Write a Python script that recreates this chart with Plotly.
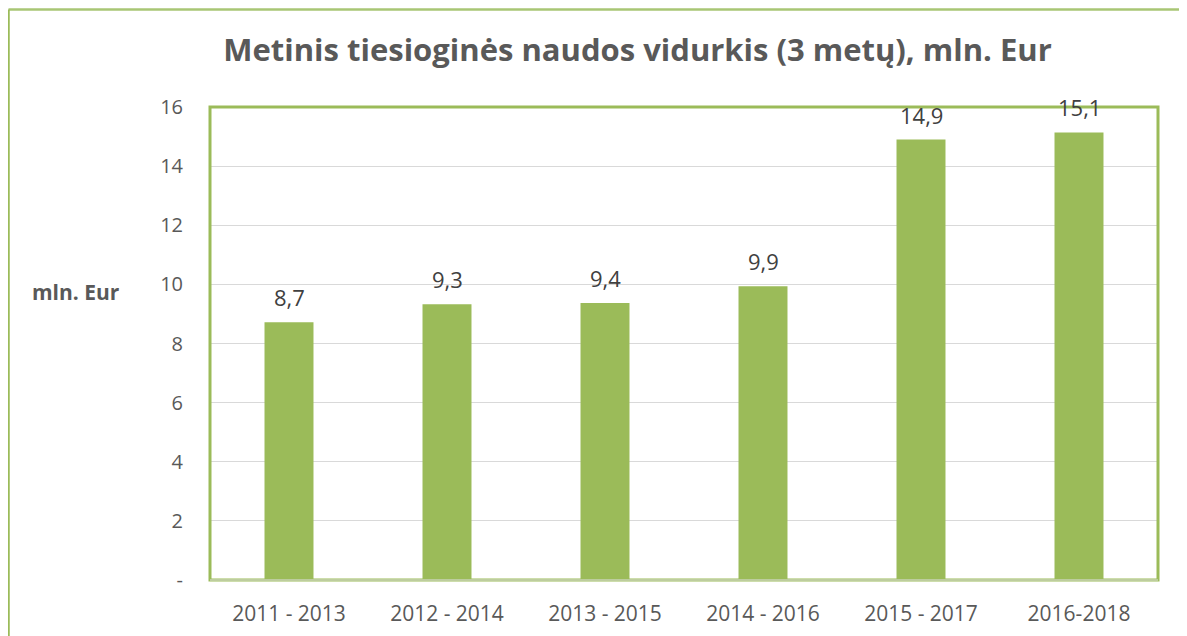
import plotly.graph_objects as go

categories = ["2011 - 2013", "2012 - 2014", "2013 - 2015", "2014 - 2016", "2015 - 2017", "2016-2018"]
values = [8.72, 9.33, 9.37, 9.94, 14.9, 15.14]
y_tick_vals = [0, 2, 4, 6, 8, 10, 12, 14, 16]
y_tick_text = ["-", "2", "4", "6", "8", "10", "12", "14", "16"]
title_text = "Metinis tiesioginės naudos vidurkis (3 metų), mln. Eur"
y_title = "mln. Eur"

GREEN = "#9BBB59"
FONT = "Open Sans"

# page has an 8px body margin; figure coordinates = screen - 8
W, H = 1187, 636
L, T = 202, 99
PW, PH = 948, 473
R = W - L - PW
B = H - T - PH

fig = go.Figure()
fig.add_trace(go.Bar(
    x=categories, y=values, marker=dict(color=GREEN, line=dict(width=0)),
    width=0.31, hoverinfo="skip",
))

for c, v in zip(categories, values):
    fig.add_annotation(
        x=c, y=v, text=f"{v:.1f}".replace(".", ","), showarrow=False,
        yanchor="bottom", yshift=8, font=dict(family=FONT, size=22, color="#404040"),
    )

# plot-area border
fig.add_shape(type="rect", xref="paper", yref="paper", x0=0, x1=1, y0=0, y1=1,
              line=dict(color=GREEN, width=3), layer="above")
fig.add_shape(type="line", xref="paper", yref="paper", x0=0, x1=1, y0=0, y1=0,
              line=dict(color="#C9D3B6", width=1.5), layer="above")

# outer chart border (top and left visible)
ox = (0.5 - L) / PW
oy = (H - B - 1.5) / PH
fig.add_shape(type="line", xref="paper", yref="paper", x0=ox, x1=2, y0=oy, y1=oy,
              line=dict(color="#A8C674", width=2.5))
fig.add_shape(type="line", xref="paper", yref="paper", x0=ox, x1=ox, y0=oy, y1=-1,
              line=dict(color=GREEN, width=2.5))

fig.add_annotation(
    xref="paper", yref="paper", x=(68 - L) / PW, y=(H - B - 284) / PH,
    text=f"<b>{y_title}</b>", showarrow=False, xanchor="center", yanchor="middle",
    font=dict(family=FONT, size=21, color="#595959"),
)

fig.update_layout(
    width=W, height=H,
    margin=dict(l=L, r=R, t=T, b=B, pad=0),
    paper_bgcolor="white", plot_bgcolor="white",
    showlegend=False,
    title=dict(text=f"<b>{title_text}</b>", x=629.5 / W, xanchor="center",
               y=1 - 42 / H, yanchor="middle",
               font=dict(family=FONT, size=31, color="#595959")),
    xaxis=dict(showgrid=False, showline=False, ticks="",
               tickfont=dict(family=FONT, size=21, color="#595959"),
               ticklabelstandoff=19),
    yaxis=dict(range=[0, 16], tickvals=y_tick_vals, ticktext=y_tick_text,
               showgrid=True, gridcolor="#D9D9D9", gridwidth=1.3,
               zeroline=False, showline=False, ticks="",
               tickfont=dict(family=FONT, size=20, color="#595959"),
               ticklabelstandoff=26),
)

fig.write_html("out.html")
